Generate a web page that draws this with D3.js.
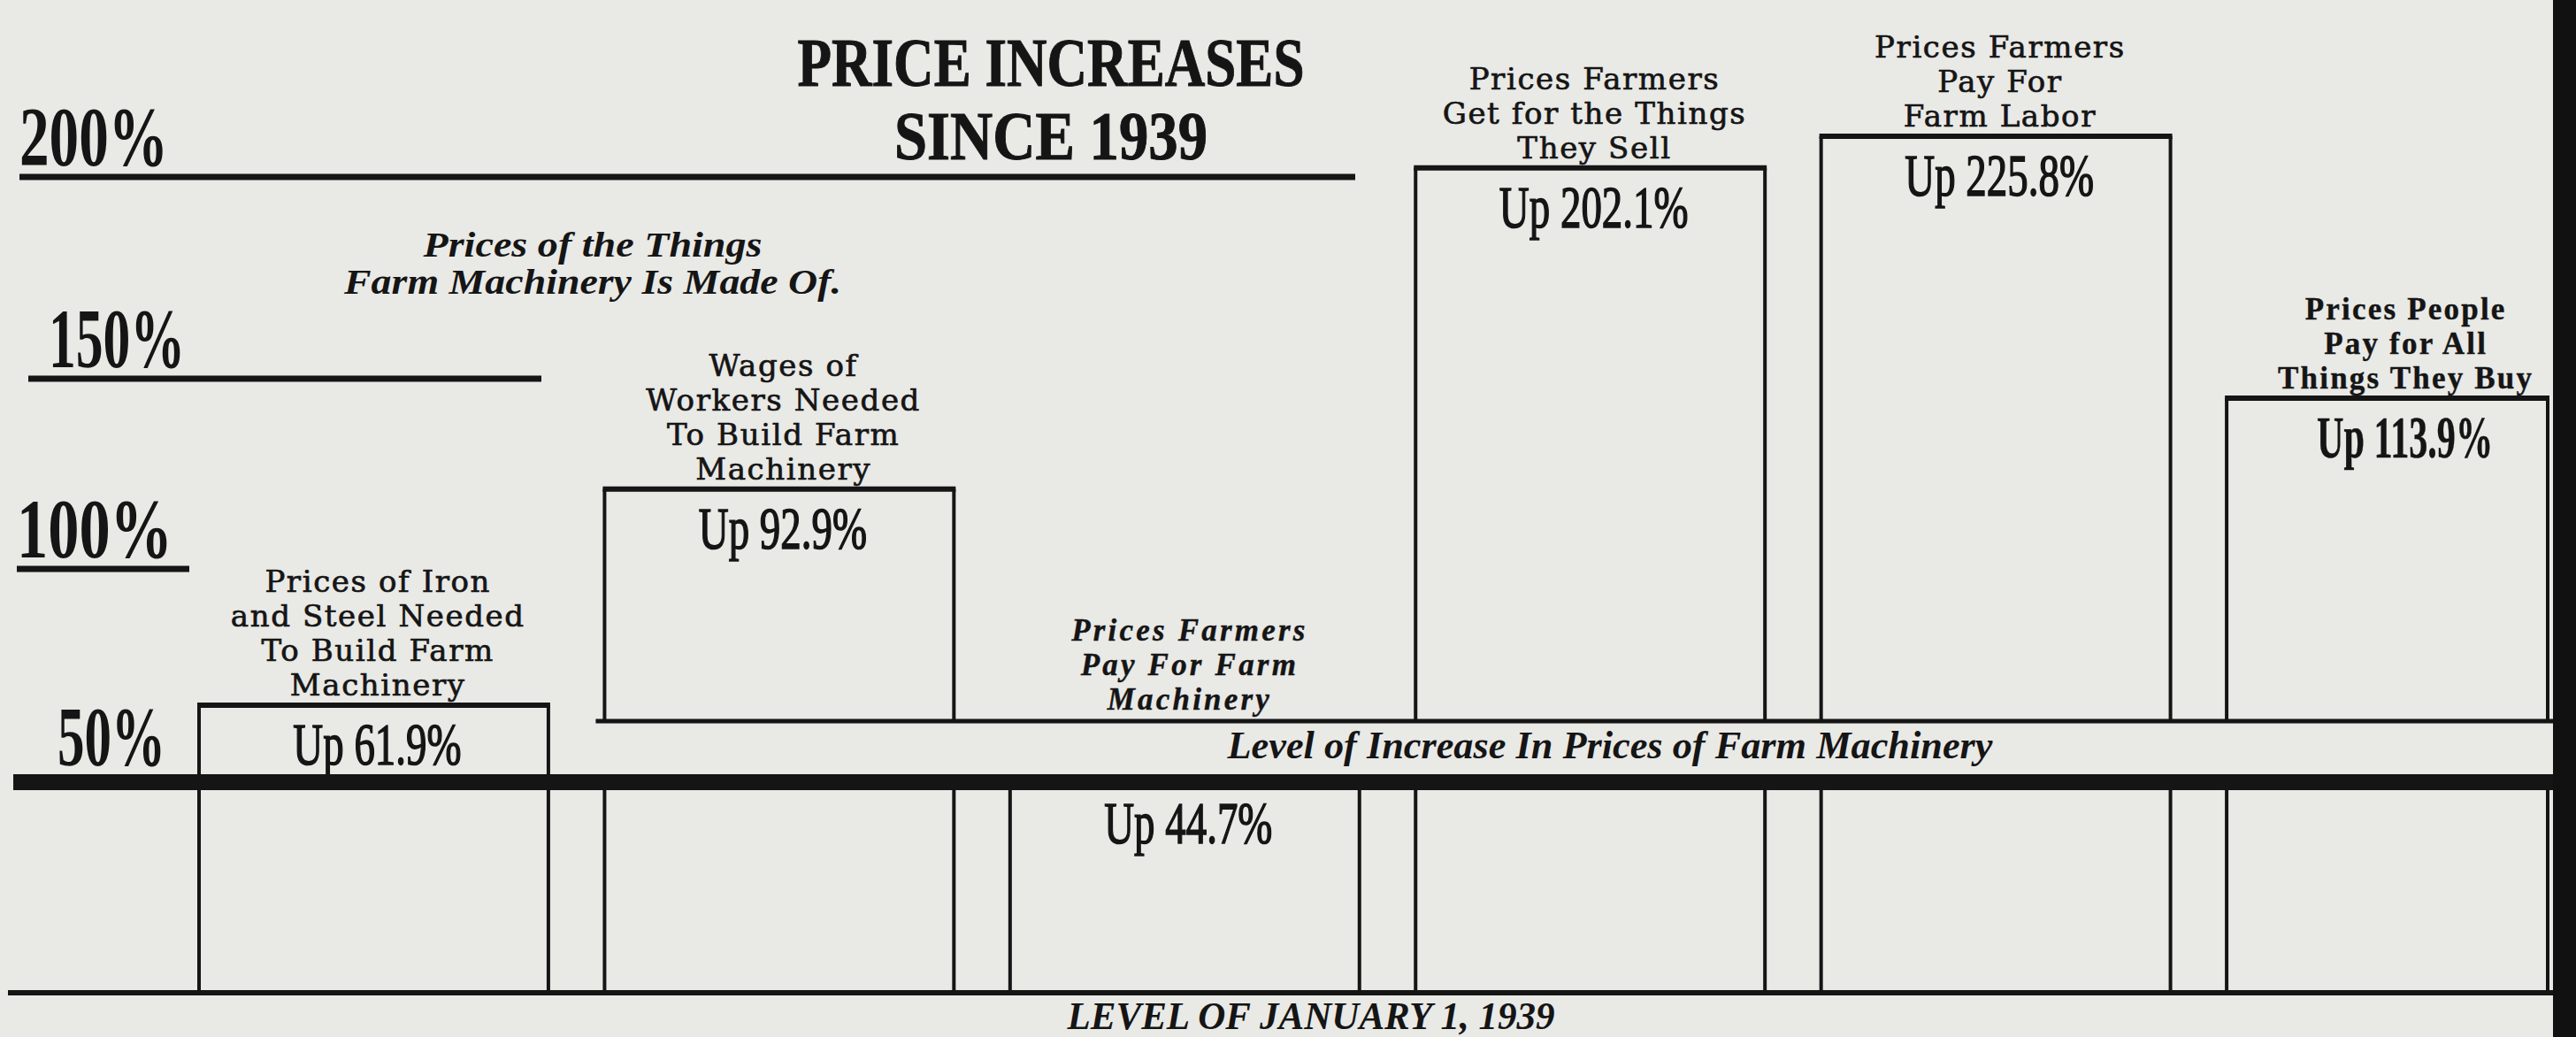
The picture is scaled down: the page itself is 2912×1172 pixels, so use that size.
<!DOCTYPE html>
<html><head><meta charset="utf-8">
<script src="https://cdn.jsdelivr.net/npm/d3@7"></script>
<style>
html,body{margin:0;padding:0;background:#e9e9e6;}
svg{display:block;}
</style></head><body>
<svg id="chart" width="2912" height="1172"></svg>
<script>
// ---------------- DATA ----------------
const categories = ["Iron and Steel", "Wages of Workers", "Farm Machinery", "Farm Products Sold", "Farm Labor", "Consumer Goods"];
const categoryLabelLines = [
  ["Prices of Iron", "and Steel Needed", "To Build Farm", "Machinery"],
  ["Wages of", "Workers Needed", "To Build Farm", "Machinery"],
  ["Prices Farmers", "Pay For Farm", "Machinery"],
  ["Prices Farmers", "Get for the Things", "They Sell"],
  ["Prices Farmers", "Pay For", "Farm Labor"],
  ["Prices People", "Pay for All", "Things They Buy"]
];
const increases = [61.9, 92.9, 44.7, 202.1, 225.8, 113.9];   // % increase since Jan 1, 1939
const referenceCategory = "Farm Machinery";
const tickValues = [200, 150, 100, 50];
const tickLabels = ["200%", "150%", "100%", "50%"];
const titleLines = ["PRICE INCREASES", "SINCE 1939"];
const groupNoteLines = ["Prices of the Things", "Farm Machinery Is Made Of."];
const referenceLevelLabel = "Level of Increase In Prices of Farm Machinery";
const baselineLabel = "LEVEL OF JANUARY 1, 1939";

// ---------------- LAYOUT / STYLE ----------------
const W = 2912, H = 1172;
const INK = "#151515";
const PAPER = "#e9e9e6";
const paperEdge = 2884;

const svg = d3.select("#chart");
svg.append("rect").attr("width", W).attr("height", H).attr("fill", PAPER);

const x = d3.scaleBand().domain(categories).range([225, 2912]).paddingInner(0.1385).paddingOuter(0);
// the newspaper artist's hand-ruled (non-proportional) bar scale
const y = d3.scaleLinear().domain([0, 40, 60, 90, 120, 200, 240])
  .range([1122, 906, 812.5, 567, 420, 193, 132.4]);
// the ruled percentage marks on the left
const ruler = d3.scaleLinear().domain([50, 100, 150, 200]).range([878, 643, 428, 200]);

const tickLayout = {
  200: {x: 22, w: 168, rule: [22, 1532]},
  150: {x: 55, w: 154, rule: [32, 612]},
  100: {x: 19, w: 176, rule: [19, 214]},
  50:  {x: 65, w: 122, rule: null}
};
const labelStyles = {
  "Farm Machinery": {family: "Liberation Serif", size: 35, weight: "bold", style: "italic", stroke: 0.4, spacing: 3.2},
  "Consumer Goods": {family: "Liberation Serif", size: 35, weight: "bold", style: "normal", stroke: 0.4, spacing: 2.2},
  default: {family: "DejaVu Serif", size: 34, weight: "normal", style: "normal", stroke: 0.7, spacing: 1.6}
};

const refIndex = categories.indexOf(referenceCategory);
const thickY = y(increases[refIndex]);
const thinY = thickY - 69;
const bottomY = y(0);
const thinStart = x(categories[1]) - 10;

const g = svg.append("g");

// ruled percentage marks
tickValues.forEach((v, i) => {
  const L = tickLayout[v];
  if (L.rule) {
    g.append("line").attr("x1", L.rule[0]).attr("x2", L.rule[1])
      .attr("y1", ruler(v)).attr("y2", ruler(v))
      .attr("stroke", INK).attr("stroke-width", 7);
  }
  g.append("text").attr("x", L.x).attr("y", ruler(v) - 13)
    .attr("font-family", "Liberation Serif").attr("font-weight", "bold")
    .attr("font-size", 96).attr("fill", INK)
    .attr("textLength", L.w).attr("lengthAdjust", "spacingAndGlyphs")
    .text(tickLabels[i]);
});

// title
titleLines.forEach((t, i) => {
  g.append("text").attr("x", 1188).attr("y", [97, 180][i])
    .attr("text-anchor", "middle")
    .attr("font-family", "Liberation Serif").attr("font-weight", "bold")
    .attr("font-size", 78).attr("fill", INK).attr("stroke", INK).attr("stroke-width", 1)
    .attr("textLength", [573, 354][i]).attr("lengthAdjust", "spacingAndGlyphs")
    .text(t);
});

// group note
groupNoteLines.forEach((t, i) => {
  g.append("text").attr("x", 670).attr("y", [290, 332][i])
    .attr("text-anchor", "middle")
    .attr("font-family", "Liberation Serif").attr("font-weight", "bold").attr("font-style", "italic")
    .attr("font-size", 40).attr("fill", INK)
    .attr("textLength", [383, 562][i]).attr("lengthAdjust", "spacingAndGlyphs")
    .text(t);
});

// thin line under upper boxes
g.append("line").attr("x1", thinStart).attr("x2", paperEdge + 4)
  .attr("y1", thinY).attr("y2", thinY).attr("stroke", INK).attr("stroke-width", 5);

// bars
const bars = g.selectAll("g.bar").data(categories.map((c, i) => ({c, v: increases[i], i})))
  .join("g").attr("class", "bar");

bars.each(function(d) {
  const sel = d3.select(this);
  const x0 = x(d.c);
  const x1 = Math.min(x0 + x.bandwidth(), paperEdge - 4);
  const top = y(d.v);
  const isRef = d.c === referenceCategory;
  const upperBottom = x0 < thinStart ? thickY : thinY;
  if (!isRef) {
    [x0, x1].forEach(xx => sel.append("line").attr("x1", xx).attr("x2", xx)
      .attr("y1", top).attr("y2", upperBottom).attr("stroke", INK).attr("stroke-width", 4));
    sel.append("line").attr("x1", x0 - 2).attr("x2", x1 + 2).attr("y1", top).attr("y2", top)
      .attr("stroke", INK).attr("stroke-width", 6);
  }
  [x0, x1].forEach(xx => sel.append("line").attr("x1", xx).attr("x2", xx)
    .attr("y1", thickY).attr("y2", bottomY).attr("stroke", INK).attr("stroke-width", 4));

  const cx = x0 + x.bandwidth() / 2 + 4;
  // value label
  const bold = d.c === "Consumer Goods";
  sel.append("text")
    .attr("transform", `translate(${cx},${(isRef ? thickY + 2 : top) + 67}) scale(${bold ? 0.62 : 0.69},1)`)
    .attr("text-anchor", "middle")
    .attr("font-family", "Liberation Serif").attr("font-weight", bold ? "bold" : "normal")
    .attr("font-size", 68).attr("fill", INK).attr("stroke", INK).attr("stroke-width", bold ? 0.5 : 1.6)
    .text(`Up ${d3.format(".1f")(d.v)}%`);

  // category label lines
  const st = labelStyles[d.c] || labelStyles.default;
  const lines = categoryLabelLines[d.i];
  const lastBase = isRef ? thinY - 13 : top - 11;
  lines.forEach((t, k) => {
    sel.append("text").attr("x", cx + st.spacing / 2).attr("y", lastBase - (lines.length - 1 - k) * 39)
      .attr("text-anchor", "middle")
      .attr("font-family", st.family).attr("font-weight", st.weight).attr("font-style", st.style)
      .attr("font-size", st.size).attr("letter-spacing", st.spacing).attr("fill", INK)
      .attr("stroke", INK).attr("stroke-width", st.stroke)
      .text(t);
  });
});

// reference level (thick) line and its label
g.append("text").attr("x", 1820).attr("y", thickY - 27)
  .attr("text-anchor", "middle")
  .attr("font-family", "Liberation Serif").attr("font-weight", "bold").attr("font-style", "italic")
  .attr("font-size", 44).attr("fill", INK)
  .attr("textLength", 865).attr("lengthAdjust", "spacingAndGlyphs")
  .text(referenceLevelLabel);
g.append("line").attr("x1", 15).attr("x2", paperEdge + 4).attr("y1", thickY).attr("y2", thickY)
  .attr("stroke", INK).attr("stroke-width", 18);

// baseline (Jan 1, 1939)
g.append("line").attr("x1", 9).attr("x2", paperEdge + 4).attr("y1", bottomY).attr("y2", bottomY)
  .attr("stroke", INK).attr("stroke-width", 6);
g.append("text").attr("x", 1482).attr("y", bottomY + 41)
  .attr("text-anchor", "middle")
  .attr("font-family", "Liberation Serif").attr("font-weight", "bold").attr("font-style", "italic")
  .attr("font-size", 44).attr("fill", INK)
  .attr("textLength", 551).attr("lengthAdjust", "spacingAndGlyphs")
  .text(baselineLabel);

// scanned page edge
svg.append("rect").attr("x", 2886).attr("y", 0).attr("width", W - 2886).attr("height", H).attr("fill", "#111");
</script>
</body></html>
